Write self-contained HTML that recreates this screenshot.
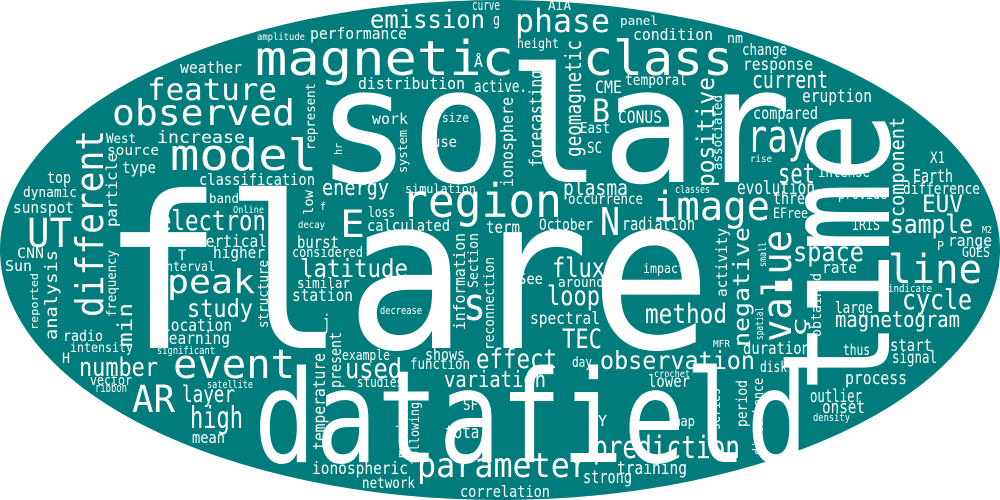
<!DOCTYPE html>
<html><head><meta charset="utf-8"><style>
html,body{margin:0;padding:0;background:#fff;}
svg{display:block;}
text{font-family:"DejaVu Sans Mono","Liberation Mono",monospace;fill:#fff;}
</style></head><body>
<svg id="cloud" width="1000" height="500" viewBox="0 0 1000 500" xmlns="http://www.w3.org/2000/svg">
<ellipse cx="500" cy="250" rx="500" ry="250" fill="#007c7c"/>
<g id="words"></g>
</svg>
<script>
// horizontal words: [text, left x, baseline y, font size, width]
const hWords = [
["solar",316,182,160,476],["flare",101,348,212,611],["datafield",254,462,128,554],
["magnetic",255,75,48,259],["class",583,75,48,150],["emission",370,28,25,115],
["phase",515,32,32,95],["feature",147,100,30,130],["observed",112,125,36,183],
["model",170,170,44,147],["region",401,217,46,161],["image",653,220,40,117],
["event",173,378,40,122],["peak",167,293,33,88],["UT",27,247,40,45],["AR",132,412,37,43],
["parameter",417,477,34,172],["line",888,283,40,94],["ray",747,152,45,61],
["curve",472,10,14,28],["performance",310,39,16,97],["amplitude",257,40,10,48],
["weather",180,73,16,62],["distribution",358,89,16,107],["increase",157,143,17,88],
["West",106,143,13,30],["source",107,155,14,52],["work",372,124,15,36],["size",442,122,12,27],
["use",432,147,15,25],["top",47,183,16,24],["type",122,173,16,34],
["classification",199,185,16,116],["energy",322,195,22,67],["simulation",405,193,12,71],
["dynamic",23,197,14,54],["sunspot",13,213,16,61],["band",209,203,13,30],["f",320,210,11,6],
["loss",368,217,14,27],["E",340,237,37,25],["electron",158,230,28,108],["Online",233,213,10,31],
["decay",298,228,10,27],["calculated",367,231,16,83],["vertical",197,247,17,70],["burst",297,248,17,42],
["considered",292,257,14,71],["higher",213,258,16,52],["T",178,260,14,8],["CNN",17,258,14,27],
["Sun",5,271,15,27],["interval",159,271,13,56],["latitude",300,277,25,108],["similar",297,288,14,53],
["station",292,301,17,61],["study",187,317,25,66],["radio",63,341,15,40],["intensity",70,352,13,63],
["significant",157,354,11,58],["location",162,331,17,70],["learning",160,344,17,70],["H",62,363,14,8],
["number",79,376,26,79],["vector",90,385,14,42],["ribbon",95,392,12,32],["layer",182,402,23,53],
["satellite",207,388,11,46],["high",190,428,30,53],["mean",192,443,16,33],["example",342,360,14,48],
["used",345,378,28,57],["studies",357,387,14,46],["ionospheric",312,474,17,96],["network",362,488,15,53],
["j",323,329,20,7],["decrease",380,314,11,42],["s",463,320,45,23],["shows",425,360,16,40],
["function",410,369,15,60],["effect",476,368,27,81],["variation",444,387,22,102],["SF",463,410,15,15],
["y",483,418,17,9],["total",445,438,18,43],["correlation",460,497,16,90],["prediction",593,458,31,147],
["training",617,474,18,70],["strong",583,483,18,49],["W",573,463,12,7],["Y",598,426,15,9],["z",640,402,13,7],
["map",673,426,14,22],["lower",648,387,17,42],["crochet",654,377,10,36],["observation",600,369,25,155],
["day",572,367,14,20],["TEC",562,348,27,40],["spectral",530,324,17,70],["loop",547,305,27,53],
["See",518,284,15,25],["around",558,287,14,46],["flux",552,277,27,53],["impact",643,273,13,42],
["method",645,323,27,82],["MFR",713,347,10,17],["duration",743,354,17,67],["disk",760,372,15,27],
["thus",843,355,15,27],["process",845,384,18,62],["outlier",810,402,18,52],["onset",822,413,18,43],
["density",813,421,11,37],["start",890,351,17,42],["signal",892,363,17,45],["magnetogram",835,327,22,125],
["large",835,313,16,38],["cycle",902,309,28,70],["indicate",888,292,11,44],["rate",822,273,16,35],
["space",793,261,27,71],["GOES",962,257,14,28],["height",517,48,13,42],["active.",474,92,17,53],
["Å",474,67,15,9],["g",493,25,16,7],["CME",595,93,17,27],["temporal",625,85,15,62],["B",592,122,32,18],
["CONUS",618,123,17,44],["East",580,133,15,30],["SC",587,153,16,15],["current",752,88,24,76],
["change",742,55,16,45],["response",743,70,17,70],["eruption",802,102,18,70],["compared",753,119,17,65],
["X1",930,163,16,15],["rise",750,162,10,22],["set",778,183,28,37],["intense",818,177,15,52],
["Earth",913,182,18,40],["difference",903,194,16,77],["evolution",737,194,19,78],["classes",675,193,11,35],
["plasma",563,195,21,65],["occurrence",568,204,15,75],["provide",838,199,15,49],["three",773,204,17,40],
["EUV",922,212,24,41],["N",600,235,38,20],["October",539,230,16,54],["radiation",622,230,18,73],
["EFree",773,218,14,35],["IRIS",852,230,15,28],["sample",890,233,26,83],["M2",982,233,10,10],
["range",948,246,16,44],["term",486,233,17,34],["P",937,250,12,7],["AIA",548,10,13,23],
["panel",620,25,12,38],["condition",633,40,16,80],["nm",727,43,14,16]
];
// vertical words (rotated -90): [text, baseline x, bottom y, font size, length]
const vWords = [
["time",889,392,150,280],["different",103,317,38,187],["represent",315,150,13,67],["hr",342,155,11,12],
["system",407,173,12,43],["particle",117,227,15,74],["low",313,215,13,25],["analysis",57,340,17,90],
["min",132,347,20,44],["frequency",116,317,13,67],["reported",38,330,11,57],["structure",268,328,14,68],
["temperature",325,450,17,97],["present",341,388,16,56],["maximum",408,458,16,63],["following",419,465,13,63],
["information",465,330,16,97],["Section",478,288,14,55],["reconnection",494,350,14,93],["series",720,430,14,42],
["period",747,427,15,47],["disturbance",763,455,14,77],["activity",727,297,15,69],["negative",749,347,22,120],
["value",791,342,40,112],["ç",806,337,20,20],["small",766,267,10,25],["spatial",763,340,11,33],
["obtained",821,337,14,64],["geomagnetic",581,157,22,117],["forecasting",542,167,18,97],
["ionosphere",513,187,17,90],["positive",714,187,24,110],["associated",722,170,13,75],["component",904,217,20,100]
];
const NS="http://www.w3.org/2000/svg";
const g=document.getElementById("words");
function slug(s){return s.toLowerCase().replace(/[^a-z0-9]+/g,"-").replace(/^-|-$/g,"")||"glyph";}
hWords.forEach(w=>{
  const t=document.createElementNS(NS,"text");
  t.setAttribute("x",w[1]);t.setAttribute("y",w[2]);
  t.setAttribute("font-size",w[3]);
  t.setAttribute("textLength",w[4]);t.setAttribute("lengthAdjust","spacingAndGlyphs");
  
  
  t.textContent=w[0];g.appendChild(t);
});
vWords.forEach(w=>{
  const t=document.createElementNS(NS,"text");
  t.setAttribute("x",0);t.setAttribute("y",0);
  t.setAttribute("transform","translate("+w[1]+","+w[2]+") rotate(-90)");
  t.setAttribute("font-size",w[3]);
  t.setAttribute("textLength",w[4]);t.setAttribute("lengthAdjust","spacingAndGlyphs");
  
  
  t.textContent=w[0];g.appendChild(t);
});
</script>
</body></html>
